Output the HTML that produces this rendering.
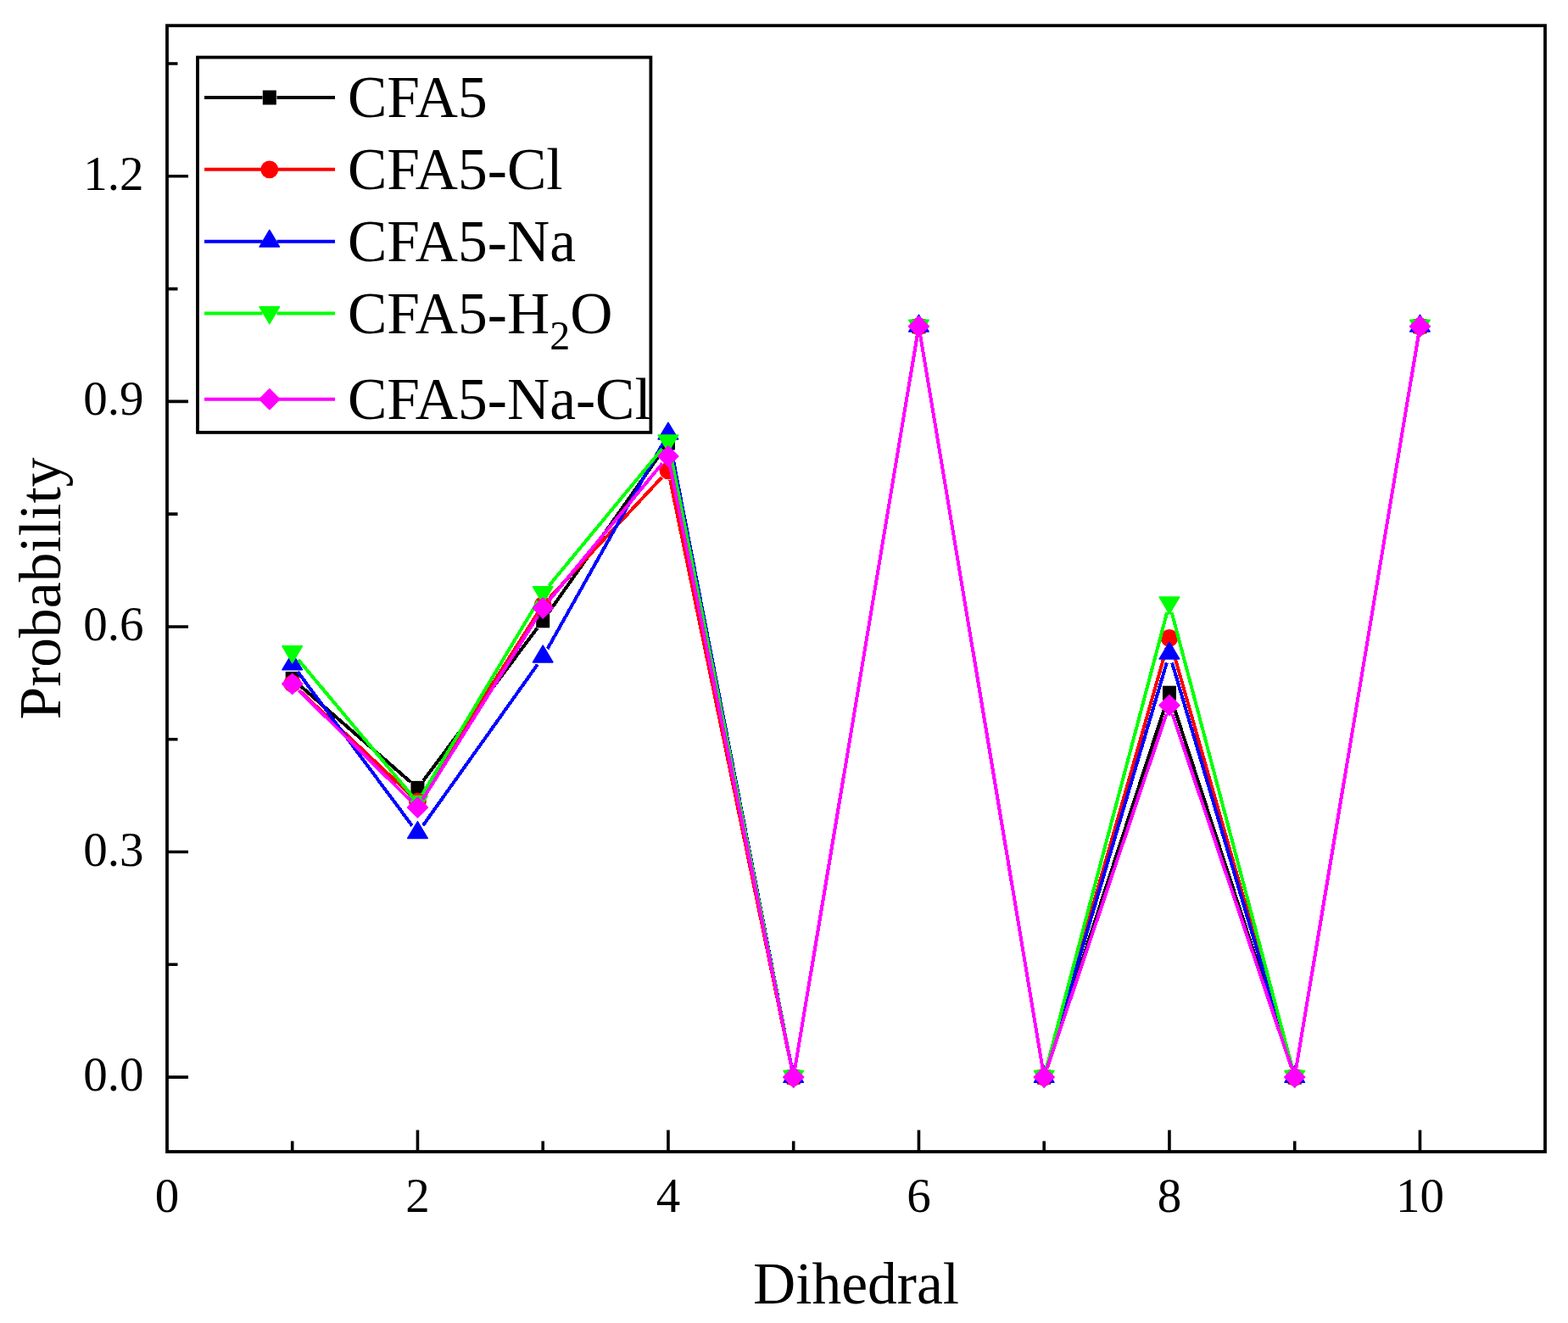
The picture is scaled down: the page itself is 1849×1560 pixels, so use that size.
<!DOCTYPE html><html><head><meta charset="utf-8"><title>Probability vs Dihedral</title>
<style>html,body{margin:0;padding:0;background:#fff;overflow:hidden}svg{display:block}</style></head><body>
<svg width="1849" height="1560" viewBox="0 0 1849 1560" font-family='"Liberation Serif", "Times New Roman", serif'>
<rect x="0" y="0" width="1849" height="1560" fill="#fff"/>
<path d="M352.99 807.71L484.16 922.14M499.04 920.56L633.61 740.59M646.54 722.79L781.61 531.06M790.08 532.86L933.57 1259.31M937.51 1259.25L1081.64 395.7M1085.26 395.7L1229.39 1259.25M1234.61 1259.64L1375.54 827.66M1382.36 827.66L1523.29 1259.64M1528.51 1259.25L1672.64 395.7" stroke="#000000" stroke-width="4.0" fill="none" shape-rendering="crispEdges"/>
<g><rect x="336.7" y="791.97" width="16" height="17" fill="#000000"/><rect x="484.45" y="920.87" width="16" height="17" fill="#000000"/><rect x="632.2" y="723.28" width="16" height="17" fill="#000000"/><rect x="779.95" y="513.56" width="16" height="17" fill="#000000"/><rect x="927.7" y="1261.6" width="16" height="17" fill="#000000"/><rect x="1075.45" y="376.35" width="16" height="17" fill="#000000"/><rect x="1223.2" y="1261.6" width="16" height="17" fill="#000000"/><rect x="1370.95" y="808.71" width="16" height="17" fill="#000000"/><rect x="1518.7" y="1261.6" width="16" height="17" fill="#000000"/><rect x="1666.45" y="376.35" width="16" height="17" fill="#000000"/></g>
<path d="M352.71 813.68L484.44 937.67M498.36 935.94L634.29 722.56M647.7 705.23L780.45 562.86M790.18 565.59L933.47 1259.33M937.51 1259.25L1081.64 395.7M1085.26 395.7L1229.39 1259.25M1234.22 1259.52L1375.93 762.98M1381.97 762.98L1523.68 1259.52M1528.51 1259.25L1672.64 395.7" stroke="#ff0000" stroke-width="4.0" fill="none" shape-rendering="crispEdges"/>
<g><circle cx="344.7" cy="806.14" r="10.4" fill="#ff0000"/><circle cx="492.45" cy="945.21" r="10.4" fill="#ff0000"/><circle cx="640.2" cy="713.28" r="10.4" fill="#ff0000"/><circle cx="787.95" cy="554.82" r="10.4" fill="#ff0000"/><circle cx="935.7" cy="1270.1" r="10.4" fill="#ff0000"/><circle cx="1083.45" cy="384.85" r="10.4" fill="#ff0000"/><circle cx="1231.2" cy="1270.1" r="10.4" fill="#ff0000"/><circle cx="1378.95" cy="752.41" r="10.4" fill="#ff0000"/><circle cx="1526.7" cy="1270.1" r="10.4" fill="#ff0000"/><circle cx="1674.45" cy="384.85" r="10.4" fill="#ff0000"/></g>
<path d="M351.26 792.39L485.89 973.48M498.83 973.34L633.82 783.59M645.59 765.04L782.56 521.38M790.05 522.59L933.6 1259.3M937.51 1259.25L1081.64 395.7M1085.26 395.7L1229.39 1259.25M1234.32 1259.55L1375.83 781.37M1382.07 781.37L1523.58 1259.55M1528.51 1259.25L1672.64 395.7" stroke="#0000ff" stroke-width="4.0" fill="none" shape-rendering="crispEdges"/>
<g><polygon points="344.7,770.07 333,789.77 356.4,789.77" fill="#0000ff" stroke="#0000ff" stroke-width="1.6" stroke-linejoin="round"/><polygon points="492.45,968.81 480.75,988.51 504.15,988.51" fill="#0000ff" stroke="#0000ff" stroke-width="1.6" stroke-linejoin="round"/><polygon points="640.2,761.13 628.5,780.83 651.9,780.83" fill="#0000ff" stroke="#0000ff" stroke-width="1.6" stroke-linejoin="round"/><polygon points="787.95,498.29 776.25,517.99 799.65,517.99" fill="#0000ff" stroke="#0000ff" stroke-width="1.6" stroke-linejoin="round"/><polygon points="935.7,1256.6 924,1276.3 947.4,1276.3" fill="#0000ff" stroke="#0000ff" stroke-width="1.6" stroke-linejoin="round"/><polygon points="1083.45,371.35 1071.75,391.05 1095.15,391.05" fill="#0000ff" stroke="#0000ff" stroke-width="1.6" stroke-linejoin="round"/><polygon points="1231.2,1256.6 1219.5,1276.3 1242.9,1276.3" fill="#0000ff" stroke="#0000ff" stroke-width="1.6" stroke-linejoin="round"/><polygon points="1378.95,757.32 1367.25,777.02 1390.65,777.02" fill="#0000ff" stroke="#0000ff" stroke-width="1.6" stroke-linejoin="round"/><polygon points="1526.7,1256.6 1515,1276.3 1538.4,1276.3" fill="#0000ff" stroke="#0000ff" stroke-width="1.6" stroke-linejoin="round"/><polygon points="1674.45,371.35 1662.75,391.05 1686.15,391.05" fill="#0000ff" stroke="#0000ff" stroke-width="1.6" stroke-linejoin="round"/></g>
<path d="M351.76 777.84L485.39 937.66M498.1 936.66L634.55 708.73M647.21 690.81L780.94 529.04M790.08 531.35L933.57 1259.31M937.51 1259.25L1081.64 395.7M1085.26 395.7L1229.39 1259.25M1234.01 1259.47L1376.14 722.14M1381.76 722.14L1523.89 1259.47M1528.51 1259.25L1672.64 395.7" stroke="#00ff00" stroke-width="4.0" fill="none" shape-rendering="crispEdges"/>
<g><polygon points="333,761.9 356.4,761.9 344.7,781.7" fill="#00ff00" stroke="#00ff00" stroke-width="1.6" stroke-linejoin="round"/><polygon points="480.75,938.6 504.15,938.6 492.45,958.4" fill="#00ff00" stroke="#00ff00" stroke-width="1.6" stroke-linejoin="round"/><polygon points="628.5,691.79 651.9,691.79 640.2,711.59" fill="#00ff00" stroke="#00ff00" stroke-width="1.6" stroke-linejoin="round"/><polygon points="776.25,513.06 799.65,513.06 787.95,532.86" fill="#00ff00" stroke="#00ff00" stroke-width="1.6" stroke-linejoin="round"/><polygon points="924,1262.6 947.4,1262.6 935.7,1282.4" fill="#00ff00" stroke="#00ff00" stroke-width="1.6" stroke-linejoin="round"/><polygon points="1071.75,377.35 1095.15,377.35 1083.45,397.15" fill="#00ff00" stroke="#00ff00" stroke-width="1.6" stroke-linejoin="round"/><polygon points="1219.5,1262.6 1242.9,1262.6 1231.2,1282.4" fill="#00ff00" stroke="#00ff00" stroke-width="1.6" stroke-linejoin="round"/><polygon points="1367.25,704.01 1390.65,704.01 1378.95,723.81" fill="#00ff00" stroke="#00ff00" stroke-width="1.6" stroke-linejoin="round"/><polygon points="1515,1262.6 1538.4,1262.6 1526.7,1282.4" fill="#00ff00" stroke="#00ff00" stroke-width="1.6" stroke-linejoin="round"/><polygon points="1662.75,377.35 1686.15,377.35 1674.45,397.15" fill="#00ff00" stroke="#00ff00" stroke-width="1.6" stroke-linejoin="round"/></g>
<path d="M352.53 814.13L484.62 944.39M498.3 942.8L634.35 726.22M647.2 708.43L780.95 546.48M790.13 548.78L933.52 1259.32M937.51 1259.25L1081.64 395.7M1085.26 395.7L1229.39 1259.25M1234.71 1259.68L1375.44 842.06M1382.46 842.06L1523.19 1259.68M1528.51 1259.25L1672.64 395.7" stroke="#ff00ff" stroke-width="4.0" fill="none" shape-rendering="crispEdges"/>
<g><polygon points="344.7,794.51 356.6,806.41 344.7,818.31 332.8,806.41" fill="#ff00ff" stroke="#ff00ff" stroke-width="1.6" stroke-linejoin="round"/><polygon points="492.45,940.22 504.35,952.12 492.45,964.02 480.55,952.12" fill="#ff00ff" stroke="#ff00ff" stroke-width="1.6" stroke-linejoin="round"/><polygon points="640.2,705.01 652.1,716.91 640.2,728.81 628.3,716.91" fill="#ff00ff" stroke="#ff00ff" stroke-width="1.6" stroke-linejoin="round"/><polygon points="787.95,526.1 799.85,538 787.95,549.9 776.05,538" fill="#ff00ff" stroke="#ff00ff" stroke-width="1.6" stroke-linejoin="round"/><polygon points="935.7,1258.2 947.6,1270.1 935.7,1282 923.8,1270.1" fill="#ff00ff" stroke="#ff00ff" stroke-width="1.6" stroke-linejoin="round"/><polygon points="1083.45,372.95 1095.35,384.85 1083.45,396.75 1071.55,384.85" fill="#ff00ff" stroke="#ff00ff" stroke-width="1.6" stroke-linejoin="round"/><polygon points="1231.2,1258.2 1243.1,1270.1 1231.2,1282 1219.3,1270.1" fill="#ff00ff" stroke="#ff00ff" stroke-width="1.6" stroke-linejoin="round"/><polygon points="1378.95,819.74 1390.85,831.64 1378.95,843.54 1367.05,831.64" fill="#ff00ff" stroke="#ff00ff" stroke-width="1.6" stroke-linejoin="round"/><polygon points="1526.7,1258.2 1538.6,1270.1 1526.7,1282 1514.8,1270.1" fill="#ff00ff" stroke="#ff00ff" stroke-width="1.6" stroke-linejoin="round"/><polygon points="1674.45,372.95 1686.35,384.85 1674.45,396.75 1662.55,384.85" fill="#ff00ff" stroke="#ff00ff" stroke-width="1.6" stroke-linejoin="round"/></g>
<rect x="197.0" y="30.2" width="1625.0" height="1327.8" fill="none" stroke="#000" stroke-width="3.8" stroke-linejoin="miter"/>
<path d="M344.7 1358V1345.5M492.45 1358V1332.5M640.2 1358V1345.5M787.95 1358V1332.5M935.7 1358V1345.5M1083.45 1358V1332.5M1231.2 1358V1345.5M1378.95 1358V1332.5M1526.7 1358V1345.5M1674.45 1358V1332.5M197 1270.1H222M197 1137.31H209.5M197 1004.52H222M197 871.74H209.5M197 738.95H222M197 606.16H209.5M197 473.38H222M197 340.59H209.5M197 207.8H222M197 75.01H209.5" stroke="#000" stroke-width="3.6" fill="none"/>
<text x="169.5" y="1286.2" font-size="57" text-anchor="end">0.0</text>
<text x="169.5" y="1020.62" font-size="57" text-anchor="end">0.3</text>
<text x="169.5" y="755.05" font-size="57" text-anchor="end">0.6</text>
<text x="169.5" y="489.47" font-size="57" text-anchor="end">0.9</text>
<text x="169.5" y="223.9" font-size="57" text-anchor="end">1.2</text>
<text x="196.95" y="1428.5" font-size="57" text-anchor="middle">0</text>
<text x="492.45" y="1428.5" font-size="57" text-anchor="middle">2</text>
<text x="787.95" y="1428.5" font-size="57" text-anchor="middle">4</text>
<text x="1083.45" y="1428.5" font-size="57" text-anchor="middle">6</text>
<text x="1378.95" y="1428.5" font-size="57" text-anchor="middle">8</text>
<text x="1674.45" y="1428.5" font-size="57" text-anchor="middle">10</text>
<text x="1009.6" y="1537.2" font-size="69.5" text-anchor="middle">Dihedral</text>
<text transform="translate(70.6 694) rotate(-90)" x="0" y="0" font-size="69.5" text-anchor="middle">Probability</text>
<rect x="233" y="67.6" width="534.4" height="442.3" fill="#fff" stroke="#000" stroke-width="3.8"/>
<path d="M241 115H309.5M326.5 115H395" stroke="#000000" stroke-width="4.0"/>
<rect x="309.8" y="106.5" width="16" height="17" fill="#000000"/>
<text x="410" y="137.95" font-size="69.5">CFA5</text>
<path d="M241 199.85H309.5M326.5 199.85H395" stroke="#ff0000" stroke-width="4.0"/>
<circle cx="317.8" cy="199.85" r="10.4" fill="#ff0000"/>
<text x="410" y="222.9" font-size="69.5">CFA5-Cl</text>
<path d="M241 284.85H309.5M326.5 284.85H395" stroke="#0000ff" stroke-width="4.0"/>
<polygon points="317.8,271.35 306.1,291.05 329.5,291.05" fill="#0000ff" stroke="#0000ff" stroke-width="1.6" stroke-linejoin="round"/>
<text x="410" y="307.95" font-size="69.5">CFA5-Na</text>
<path d="M241 369.4H309.5M326.5 369.4H395" stroke="#00ff00" stroke-width="4.0"/>
<polygon points="306.1,361.9 329.5,361.9 317.8,381.7" fill="#00ff00" stroke="#00ff00" stroke-width="1.6" stroke-linejoin="round"/>
<text x="410" y="392.9" font-size="69.5">CFA5-H<tspan font-size="48" dy="19">2</tspan><tspan dy="-19">O</tspan></text>
<path d="M241 470.8H309.5M326.5 470.8H395" stroke="#ff00ff" stroke-width="4.0"/>
<polygon points="317.8,458.9 329.7,470.8 317.8,482.7 305.9,470.8" fill="#ff00ff" stroke="#ff00ff" stroke-width="1.6" stroke-linejoin="round"/>
<text x="410" y="493.65" font-size="69.5">CFA5-Na-Cl</text>
</svg></body></html>
